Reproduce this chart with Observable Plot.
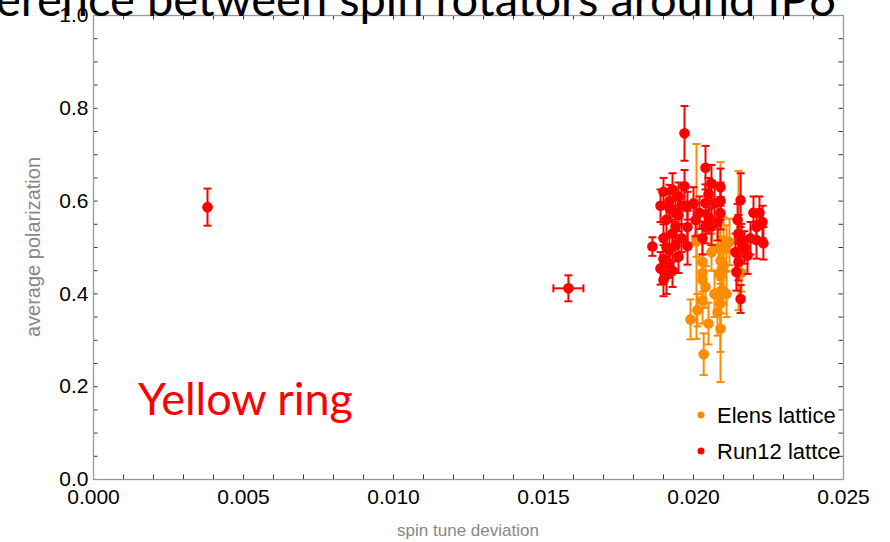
<!DOCTYPE html>
<html><head><meta charset="utf-8">
<script src="https://cdn.jsdelivr.net/npm/d3@7"></script>
<script src="https://cdn.jsdelivr.net/npm/@observablehq/plot@0.6"></script>
<style>
html,body{margin:0;padding:0;background:#fff;overflow:hidden;}
#chart{position:relative;width:890px;height:542px;}
</style></head><body><div id="chart"></div>
<script>
// ---- tick labels ----
const xTicks = [0, 0.005, 0.010, 0.015, 0.020, 0.025];
const yTicks = [0, 0.2, 0.4, 0.6, 0.8, 1.0];

// ---- Run12 lattce (red) ----
const runX = [0.0038, 0.01583,
  0.01863, 0.0189, 0.0190, 0.0190, 0.0190, 0.0191, 0.0191, 0.0192, 0.0192, 0.0192,
  0.0192, 0.0193, 0.0193, 0.0193, 0.0194, 0.0194, 0.0194, 0.0195, 0.0195, 0.0195,
  0.0196, 0.0196, 0.0197, 0.0197, 0.0198, 0.0198, 0.0198, 0.0189, 0.0190, 0.0191,
  0.0200, 0.02007, 0.0204, 0.0206, 0.0204, 0.0205, 0.0204, 0.0203, 0.0207, 0.0209,
  0.0209, 0.0209, 0.0206, 0.0208, 0.0202, 0.0205,
  0.02157, 0.02147, 0.0215, 0.02143, 0.02157, 0.0216, 0.0217, 0.0219, 0.0220, 0.0221,
  0.0222, 0.0223, 0.02233, 0.0221, 0.0218, 0.0215, 0.0214];
const runY = [0.587, 0.412,
  0.502, 0.455, 0.430, 0.475, 0.520, 0.560, 0.440, 0.585, 0.495, 0.465,
  0.600, 0.625, 0.530, 0.450, 0.575, 0.505, 0.545, 0.610, 0.480, 0.570,
  0.590, 0.520, 0.632, 0.746, 0.544, 0.503, 0.590, 0.590, 0.620, 0.500,
  0.595, 0.559, 0.672, 0.638, 0.596, 0.565, 0.544, 0.520, 0.596, 0.630,
  0.600, 0.574, 0.545, 0.555, 0.575, 0.615,
  0.602, 0.559, 0.469, 0.447, 0.389, 0.516, 0.500, 0.520, 0.575, 0.544,
  0.575, 0.555, 0.509, 0.516, 0.483, 0.530, 0.490];
const runErr = [0.040, 0.028,
  0.020, 0.035, 0.035, 0.030, 0.030, 0.035, 0.040, 0.030, 0.030, 0.030,
  0.035, 0.035, 0.030, 0.035, 0.030, 0.035, 0.030, 0.030, 0.035, 0.035,
  0.040, 0.030, 0.035, 0.059, 0.035, 0.040, 0.030, 0.035, 0.030, 0.030,
  0.035, 0.035, 0.047, 0.040, 0.040, 0.035, 0.035, 0.035, 0.040, 0.040,
  0.040, 0.035, 0.040, 0.040, 0.035, 0.035,
  0.058, 0.035, 0.040, 0.040, 0.030, 0.035, 0.035, 0.035, 0.035, 0.035,
  0.035, 0.035, 0.035, 0.040, 0.040, 0.040, 0.040];
const runXErr = [0, 0.0005];   // horizontal errors (only the first points have them)

// ---- Elens lattice (orange) ----
const elensX = [0.0199, 0.02013, 0.0201, 0.0203, 0.0203, 0.0203, 0.0204, 0.0203, 0.02034, 0.0205,
  0.0207, 0.02083, 0.0209, 0.0209, 0.02093, 0.0209, 0.0209, 0.0209, 0.0210, 0.0211,
  0.0212, 0.0211, 0.0210, 0.0215, 0.0216, 0.0201, 0.0206, 0.0208];
const elensY = [0.345, 0.365, 0.513, 0.469, 0.445, 0.430, 0.415, 0.386, 0.270, 0.336,
  0.400, 0.500, 0.472, 0.440, 0.408, 0.380, 0.325, 0.447, 0.515, 0.400,
  0.512, 0.498, 0.460, 0.515, 0.445, 0.520, 0.490, 0.360];
const elensErr = [0.043, 0.035, 0.210, 0.040, 0.040, 0.045, 0.045, 0.050, 0.045, 0.045,
  0.050, 0.060, 0.050, 0.050, 0.050, 0.050, 0.050, 0.237, 0.050, 0.050,
  0.050, 0.050, 0.050, 0.150, 0.040, 0.040, 0.040, 0.050];

const RED = "#ff0000", ORANGE = "#ff8c00";

const run = runX.map((x, i) => ({x, y: runY[i], e: runErr[i], ex: runXErr[i] || 0}));
const elens = elensX.map((x, i) => ({x, y: elensY[i], e: elensErr[i]}));
const runH = run.filter(d => d.ex > 0);

const hCap = {draw(ctx, size) {const w = Math.sqrt(size / Math.PI); ctx.moveTo(-w, 0); ctx.lineTo(w, 0);}};
const vCap = {draw(ctx, size) {const w = Math.sqrt(size / Math.PI); ctx.moveTo(0, -w); ctx.lineTo(0, w);}};

const W = 890, H = 542, mL = 93, mR = 47, mT = 15, mB = 63;
const fw = W - mL - mR, fh = H - mT - mB, tl = 4.5;
const xAll = d3.range(0, 26).map(i => i / 1000);
const yAll = d3.range(0, 21).map(i => i / 20);

function errMarks(data, color) {
  return [
    Plot.ruleX(data, {x: "x", y1: d => d.y - d.e, y2: d => d.y + d.e, stroke: color, strokeWidth: 2}),
    Plot.dot(data, {x: "x", y: d => d.y + d.e, symbol: hCap, r: 4, stroke: color, strokeWidth: 2}),
    Plot.dot(data, {x: "x", y: d => d.y - d.e, symbol: hCap, r: 4, stroke: color, strokeWidth: 2}),
    Plot.dot(data, {x: "x", y: "y", r: 5.3, fill: color})
  ];
}

const chart = Plot.plot({
  width: W, height: H,
  marginLeft: mL, marginRight: mR, marginTop: mT, marginBottom: mB,
  style: {fontFamily: "'Liberation Sans', Arial, sans-serif", fontSize: "21px", color: "#000", background: "#fff"},
  x: {domain: [0, 0.025]},
  y: {domain: [0, 1]},
  marks: [
    Plot.tickX(xAll, {x: d => d, insetTop: fh - tl, stroke: "#333"}),
    Plot.tickX(xAll, {x: d => d, insetBottom: fh - tl, stroke: "#333"}),
    Plot.tickY(yAll, {y: d => d, insetRight: fw - tl, stroke: "#333"}),
    Plot.tickY(yAll, {y: d => d, insetLeft: fw - tl, stroke: "#333"}),
    Plot.frame({stroke: "#999", strokeWidth: 1.3}),
    Plot.axisX({ticks: xTicks, tickSize: 0, tickPadding: 10, tickFormat: d3.format(".3f"), fontSize: 21, label: null}),
    Plot.axisY({ticks: yTicks, tickSize: 0, tickPadding: 5, tickFormat: d3.format(".1f"), fontSize: 21, label: null}),
    ...errMarks(elens, ORANGE),
    Plot.ruleY(runH, {y: "y", x1: d => d.x - d.ex, x2: d => d.x + d.ex, stroke: RED, strokeWidth: 2}),
    Plot.dot(runH, {x: d => d.x - d.ex, y: "y", symbol: vCap, r: 4, stroke: RED, strokeWidth: 2}),
    Plot.dot(runH, {x: d => d.x + d.ex, y: "y", symbol: vCap, r: 4, stroke: RED, strokeWidth: 2}),
    ...errMarks(run, RED)
  ]
});
document.getElementById("chart").appendChild(chart);

const svg = d3.select(chart);
// title (partly cut off as in the reference)
svg.append("text").attr("x", 836).attr("y", 16).attr("text-anchor", "end")
  .attr("font-family", "Lato, 'Open Sans', sans-serif").attr("font-size", 47).attr("fill", "#000")
  .text("Difference between spin rotators around IP6");
// axis titles
svg.append("text").attr("x", mL + fw / 2).attr("y", 536).attr("text-anchor", "middle")
  .attr("font-size", 17).attr("fill", "#888").text("spin tune deviation");
svg.append("text").attr("transform", `translate(40,${mT + fh / 2}) rotate(-90)`).attr("text-anchor", "middle")
  .attr("font-size", 20).attr("fill", "#888").text("average polarization");
// annotation
svg.append("text").attr("x", 138).attr("y", 415).attr("text-anchor", "start")
  .attr("font-family", "Lato, 'Open Sans', sans-serif").attr("font-size", 45).attr("fill", RED)
  .text("Yellow ring");
// legend
const legend = [{label: "Elens lattice", color: ORANGE, y: 415}, {label: "Run12 lattce", color: RED, y: 451}];
legend.forEach(l => {
  svg.append("circle").attr("cx", 701).attr("cy", l.y).attr("r", 3.5).attr("fill", l.color);
  svg.append("text").attr("x", 717).attr("y", l.y).attr("dy", "0.35em").attr("text-anchor", "start")
    .attr("font-size", 22).attr("fill", "#000").text(l.label);
});
</script></body></html>
